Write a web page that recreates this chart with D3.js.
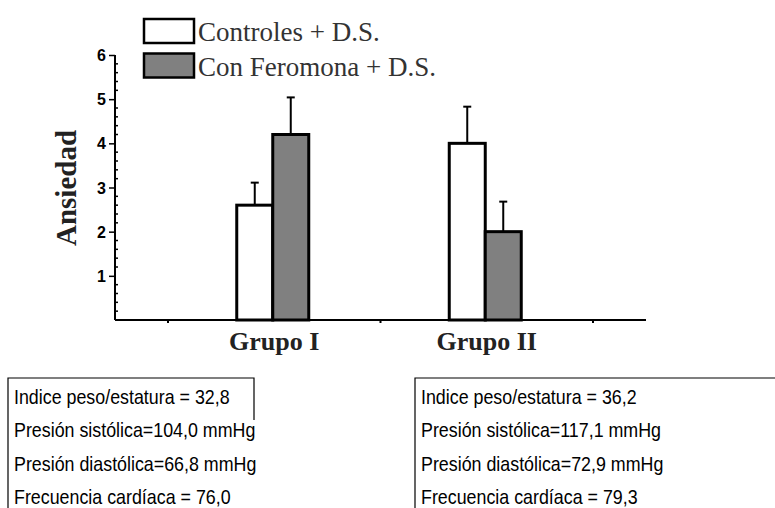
<!DOCTYPE html>
<html><head><meta charset="utf-8">
<script src="https://cdn.jsdelivr.net/npm/d3@7"></script>
<style>html,body{margin:0;padding:0;background:#fff;}svg{display:block;}</style>
</head><body>
<script>
const groups = ["Grupo I", "Grupo II"];
const controles = [2.6, 4.0];
const controlesSD = [0.51, 0.83];
const feromona = [4.2, 2.0];
const feromonaSD = [0.84, 0.68];
const yTicks = [1, 2, 3, 4, 5, 6];
const seriesNames = ["Controles + D.S.", "Con Feromona + D.S."];
const seriesColors = ["#ffffff", "#808080"];
const statsGrupoI = ["Indice peso/estatura = 32,8", "Presión sistólica=104,0 mmHg", "Presión diastólica=66,8 mmHg", "Frecuencia cardíaca = 76,0"];
const statsGrupoII = ["Indice peso/estatura = 36,2", "Presión sistólica=117,1 mmHg", "Presión diastólica=72,9 mmHg", "Frecuencia cardíaca = 79,3"];

const W = 775, H = 508;
const svg = d3.select("body").append("svg").attr("width", W).attr("height", H);
const serif = "'Liberation Serif','Times New Roman',serif";
const sans = "'Liberation Sans',Arial,Helvetica,sans-serif";

const y = d3.scaleLinear().domain([0, 6]).range([320, 55]);
const x = d3.scaleBand().domain(groups).range([168, 593]).padding(0);
const barW = 36;
const xLeft = 115, xRight = 646;

// Y axis (ticks via d3 axis, labels drawn from the same scale)
const yAxis = d3.axisLeft(y).tickValues(yTicks).tickSize(6).tickFormat("");
const gy = svg.append("g").attr("transform", `translate(${xLeft},0)`).call(yAxis);
gy.select(".domain").remove();
gy.selectAll(".tick line").attr("stroke", "#000").attr("stroke-width", 1.5);
svg.append("g").selectAll("text").data(yTicks).join("text")
  .attr("x", 106).attr("y", d => y(d) + 6)
  .attr("text-anchor", "end")
  .style("font-family", sans).style("font-weight", "bold").style("font-size", "16px")
  .attr("fill", "#000").text(d => d);
// minor ticks
const minor = d3.range(0, 6.0001, 0.2).filter(v => Math.abs(v - Math.round(v)) > 1e-6);
svg.append("g").selectAll("line").data(minor).join("line")
  .attr("x1", xLeft).attr("x2", xLeft + 3)
  .attr("y1", d => y(d)).attr("y2", d => y(d))
  .attr("stroke", "#000").attr("stroke-width", 1.5);
svg.append("line").attr("x1", xLeft).attr("x2", xLeft).attr("y1", y(6)).attr("y2", y(0))
  .attr("stroke", "#000").attr("stroke-width", 2);

// X axis
svg.append("line").attr("x1", xLeft).attr("x2", xRight).attr("y1", y(0)).attr("y2", y(0))
  .attr("stroke", "#000").attr("stroke-width", 2.2);
const boundaries = groups.map(g => x(g)).concat([x(groups[groups.length - 1]) + x.bandwidth()]);
svg.append("g").selectAll("line").data(boundaries).join("line")
  .attr("x1", d => d).attr("x2", d => d).attr("y1", y(0)).attr("y2", y(0) + 3)
  .attr("stroke", "#000").attr("stroke-width", 2);
svg.append("g").selectAll("text").data(groups).join("text")
  .attr("x", d => x(d) + x.bandwidth() / 2).attr("y", 350)
  .attr("text-anchor", "middle").attr("font-family", serif).attr("font-weight", "bold")
  .attr("font-size", 26).attr("fill", "#222").text(d => d);

// Y label
svg.append("text").attr("transform", "translate(76,188) rotate(-90)")
  .attr("text-anchor", "middle").attr("font-family", serif).attr("font-weight", "bold")
  .attr("font-size", 29).attr("fill", "#222").text("Ansiedad");

// Bars
const series = [
  {vals: controles, sd: controlesSD, off: -barW, color: seriesColors[0]},
  {vals: feromona, sd: feromonaSD, off: 0, color: seriesColors[1]}
];
series.forEach(s => {
  const g = svg.append("g");
  const cx = (d, i) => x(groups[i]) + x.bandwidth() / 2 - 1.5 + s.off;
  g.selectAll("line.err").data(s.vals).join("line").attr("class", "err")
    .attr("x1", (d, i) => cx(d, i) + barW / 2).attr("x2", (d, i) => cx(d, i) + barW / 2)
    .attr("y1", d => y(d)).attr("y2", (d, i) => y(d + s.sd[i]))
    .attr("stroke", "#000").attr("stroke-width", 2);
  g.selectAll("line.cap").data(s.vals).join("line").attr("class", "cap")
    .attr("x1", (d, i) => cx(d, i) + barW / 2 - 4).attr("x2", (d, i) => cx(d, i) + barW / 2 + 4)
    .attr("y1", (d, i) => y(d + s.sd[i])).attr("y2", (d, i) => y(d + s.sd[i]))
    .attr("stroke", "#000").attr("stroke-width", 2);
  g.selectAll("rect").data(s.vals).join("rect")
    .attr("x", (d, i) => cx(d, i)).attr("width", barW)
    .attr("y", d => y(d)).attr("height", d => y(0) - y(d))
    .attr("fill", s.color).attr("stroke", "#000").attr("stroke-width", 3);
});

// Legend
const lg = svg.append("g");
seriesNames.forEach((n, i) => {
  lg.append("rect").attr("x", 144).attr("y", 19 + i * 34.5).attr("width", 50).attr("height", 24)
    .attr("fill", seriesColors[i]).attr("stroke", "#000").attr("stroke-width", 2.5);
  lg.append("text").attr("x", 198).attr("y", 41 + i * 34.5)
    .attr("font-family", serif).attr("font-size", 27).attr("fill", "#333").text(n);
});

// Stats boxes
function statsBox(x0, x1, rightH, lines) {
  const g = svg.append("g");
  g.append("path").attr("d", `M${x0},${H}V378H${x1}` + (rightH ? `V${378 + rightH}` : ""))
    .attr("fill", "none").attr("stroke", "#000").attr("stroke-width", 1.2);
  g.selectAll("text").data(lines).join("text")
    .attr("transform", (d, i) => `translate(${x0 + 6},${404 + i * 33.3}) scale(0.85,1)`)
    .attr("font-family", sans).attr("font-size", 21)
    .attr("fill", "#000").text(d => d);
}
statsBox(8, 254, 42, statsGrupoI);
statsBox(415, 776, 0, statsGrupoII);
</script>
</body></html>
